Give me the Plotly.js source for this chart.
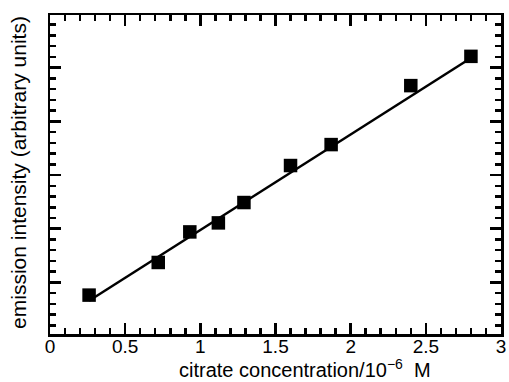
<!DOCTYPE html>
<html>
<head>
<meta charset="utf-8">
<script src="https://cdn.plot.ly/plotly-3.0.1.min.js"></script>
<style>html,body{margin:0;padding:0;background:#fff;}#chart{width:509px;height:382px;}</style>
</head>
<body>
<div id="chart"></div>
<script>
// Measured data (citrate concentration in 10^-6 M, emission intensity in arbitrary units)
const concentration = [0.26, 0.72, 0.93, 1.12, 1.29, 1.60, 1.87, 2.40, 2.80];
const intensity = [0.764, 1.372, 1.941, 2.109, 2.488, 3.177, 3.567, 4.665, 5.210];
// Linear fit line endpoints
const fitX = [0.26, 2.80];
const fitY = [0.66, 5.18];
const xTickVals = [0, 0.5, 1, 1.5, 2, 2.5, 3];
const xTickText = ['0', '0.5', '1', '1.5', '2', '2.5', '3'];
const xTitle = 'citrate concentration/10<sup>\u22126</sup>\u00a0 M';
const yTitle = 'emission intensity (arbitrary units)';

const font = 'Liberation Sans, Arial, Helvetica, sans-serif';

const traces = [
  {x: fitX, y: fitY, mode: 'lines', line: {color: '#000', width: 2.5}, hoverinfo: 'skip', showlegend: false},
  {x: concentration, y: intensity, mode: 'markers', marker: {symbol: 'square', size: 13.5, color: '#000'}, showlegend: false}
];

const axisCommon = {
  showline: true, linecolor: '#000', linewidth: 2.5, mirror: 'ticks',
  ticks: 'inside', ticklen: 11, tickwidth: 2.5, tickcolor: '#000',
  showgrid: false, zeroline: false
};

const layout = {
  width: 509, height: 382,
  margin: {l: 50, r: 8, t: 15, b: 48},
  paper_bgcolor: '#fff', plot_bgcolor: '#fff',
  font: {family: font, color: '#000'},
  xaxis: Object.assign({}, axisCommon, {
    range: [0, 3], tickmode: 'array', tickvals: xTickVals, ticktext: xTickText,
    tickfont: {family: font, size: 19, color: '#000'},
    ticklabelstandoff: -6,
    minor: {dtick: 0.1, ticks: 'inside', ticklen: 6, tickwidth: 2.5, tickcolor: '#000', showgrid: false}
  }),
  yaxis: Object.assign({}, axisCommon, {
    range: [0.04, 5.98], dtick: 1, tick0: 0, showticklabels: false,
    minor: {dtick: 0.2, ticks: 'inside', ticklen: 6, tickwidth: 2.5, tickcolor: '#000', showgrid: false}
  }),
  annotations: [
    {text: xTitle, xref: 'paper', yref: 'paper', x: 0.565, y: -48 / 319, xanchor: 'center', yanchor: 'bottom',
     showarrow: false, borderpad: 0, font: {family: font, size: 20, color: '#000'}},
    {text: yTitle, xref: 'paper', yref: 'paper', x: -0.0703, y: 0.506, xanchor: 'center', yanchor: 'middle',
     textangle: -90, showarrow: false, font: {family: font, size: 21, color: '#000'}}
  ]
};

Plotly.newPlot('chart', traces, layout, {displayModeBar: false, staticPlot: true});
</script>
</body>
</html>
